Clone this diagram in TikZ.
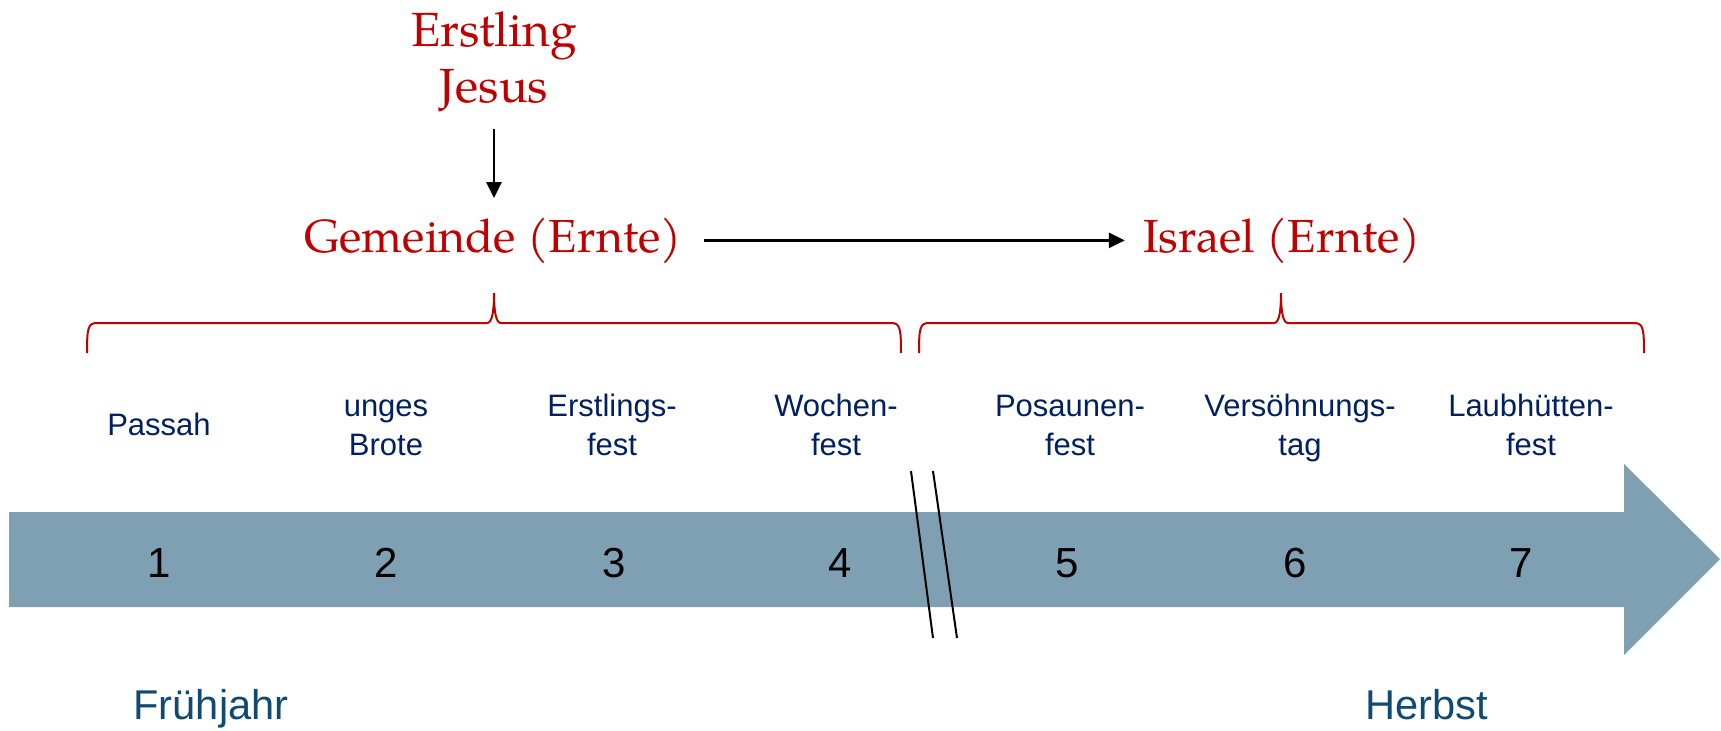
\documentclass[tikz,border=0pt]{standalone}
\usepackage{fontspec}
\setsansfont{Liberation Sans}
\newfontfamily\palfont{TeX Gyre Pagella}
\usetikzlibrary{arrows.meta}
\definecolor{ered}{HTML}{C00000}
\definecolor{navy}{HTML}{002060}
\definecolor{seasoncol}{HTML}{104A73}
\definecolor{band}{HTML}{7F9FB2}
\begin{document}
\begin{tikzpicture}[x=0.5pt,y=-0.5pt,
  redtxt/.style={text=ered,font=\palfont\fontsize{24}{28}\selectfont,inner sep=0pt,align=center,anchor=base},
  redbig/.style={redtxt,font=\palfont\fontsize{23.2}{28}\selectfont},
  feast/.style={text=navy,font=\sffamily\fontsize{15.5}{19.5}\selectfont,inner sep=0pt,align=center,anchor=base},
  num/.style={text=black,font=\sffamily\fontsize{21}{25}\selectfont,inner sep=0pt,anchor=base},
  season/.style={text=seasoncol,font=\sffamily\fontsize{20.8}{24}\selectfont,inner sep=0pt,anchor=base},
  brace/.style={draw=ered,line width=1pt},
  arr/.style={draw=black,line width=1.3pt,-{Triangle[length=8pt,width=7.5pt]}},
  brk/.style={draw=black,line width=1pt}]
\useasboundingbox (0,0) rectangle (1721,730);
% timeline arrow
\fill[band] (9,512) -- (1624,512) -- (1624,464) -- (1720,559) -- (1624,655) -- (1624,607) -- (9,607) -- cycle;
% break marks
\draw[brk] (911,471) -- (933,638);
\draw[brk] (933,471) -- (957,638);
% red texts
\node[redtxt] (erst) at (494,102) {Erstling\\Jesus};
\node[redbig] (gem) at (493,252) {Gemeinde (Ernte)};
\node[redbig] (isr) at (1282,252) {Israel (Ernte)};
\draw[arr,shorten <=8.5pt,shorten >=9.5pt] (erst.south) -- (erst.south |- gem.north);
\draw[arr,shorten <=11pt,shorten >=9pt] (gem.east) -- (gem.east -| isr.west);
% braces
\draw[brace] (87,353) .. controls (87,328) and (88,323) .. (97,323) -- (487,323)
  .. controls (492,323) and (494,312) .. (494,293)
  .. controls (494,312) and (496,323) .. (501,323) -- (891,323)
  .. controls (900,323) and (901,328) .. (901,353);
\draw[brace] (919,353) .. controls (919,328) and (920,323) .. (929,323) -- (1274,323)
  .. controls (1279,323) and (1281,312) .. (1281,293)
  .. controls (1281,312) and (1283,323) .. (1288,323) -- (1634,323)
  .. controls (1643,323) and (1644,328) .. (1644,353);
% feast labels
\node[feast] (f1) at (159,435) {Passah};
\node[feast] (f2) at (386,455) {unges\\Brote};
\node[feast] (f3) at (612,455) {Erstlings-\\fest};
\node[feast] (f4) at (836,455) {Wochen-\\fest};
\node[feast] (f5) at (1070,455) {Posaunen-\\fest};
\node[feast] (f6) at (1300,455) {Versöhnungs-\\tag};
\node[feast] (f7) at (1531,455) {Laubhütten-\\fest};
% numbers
\node[num] (n1) at (159,577) {1};
\node[num] (n2) at (386,577) {2};
\node[num] (n3) at (614,577) {3};
\node[num] (n4) at (840,577) {4};
\node[num] (n5) at (1067,577) {5};
\node[num] (n6) at (1295,577) {6};
\node[num] (n7) at (1521,577) {7};
% seasons
\node[season] (spring) at (211,719) {Frühjahr};
\node[season] (autumn) at (1427,719) {Herbst};
\end{tikzpicture}
\end{document}
